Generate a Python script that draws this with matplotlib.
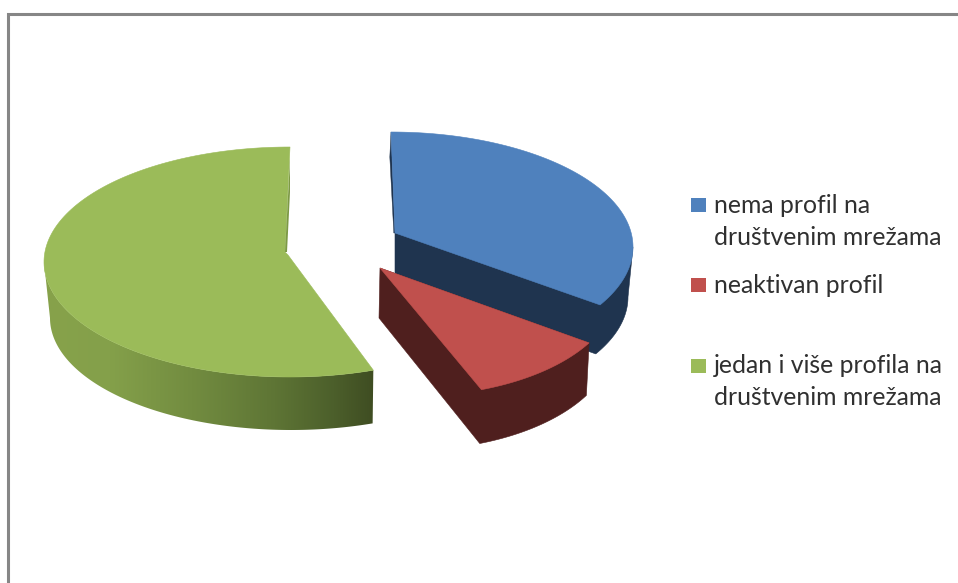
import numpy as np
import matplotlib
matplotlib.use("Agg")
import matplotlib.pyplot as plt
from matplotlib.patches import Polygon, Rectangle
from matplotlib.colors import LinearSegmentedColormap

# Data
categories = ["nema profil na\ndruštvenim mrežama", "neaktivan profil",
              "jedan i više profila na\ndruštvenim mrežama"]
shares = [33.4, 11.1, 55.5]

# Styles
top_colors = ["#4F81BD", "#C0504D", "#9BBB59"]
side_colors = ["#1F344F", "#4F1F1E", "#7D9A45"]

W, H = 958, 583
fig = plt.figure(figsize=(W / 100, H / 100), dpi=100, facecolor="white")
ax = fig.add_axes([0, 0, 1, 1])
ax.set_xlim(0, W)
ax.set_ylim(H, 0)
ax.axis("off")

# Chart frame: only left and top edges fall inside the picture
ax.plot([8.5, 8.5, W + 5], [H + 5, 13.5, 13.5], color="#868686", lw=2.2,
        solid_joinstyle="miter", zorder=1)

# Slice layout: top ellipse, bottom ellipse (cx, cy, rx, ry), apex
layout = [
    dict(top=(391, 247, 242, 115), bot=(391, 297, 237, 113), apex=(395, 233), apex_bot=(395, 283)),
    dict(top=(412, 289, 205, 107), bot=(411, 340, 203, 110), apex=(380, 268), apex_bot=(379, 318)),
    dict(top=(290, 262, 246, 115), bot=(291, 318, 241, 112), apex=(288, 255), apex_bot=(288, 307)),
]

def arc(ell, a0, a1, n=160):
    cx, cy, rx, ry = ell
    t = np.radians(np.linspace(a0, a1, n))
    return np.column_stack([cx + rx * np.sin(t), cy - ry * np.cos(t)])

edges = np.concatenate([[0], np.cumsum(shares)]) / np.sum(shares) * 360
spans = list(zip(edges[:-1], edges[1:]))

# ---- Blue slice: side silhouette (wall swept from the 3 o'clock tangent + cut face)
a0, a1 = spans[0]
L = layout[0]
body = np.vstack([[L["apex"]], arc(L["top"], 90, a1)[:1], arc(L["bot"], 90, a1), [L["apex_bot"]]])
ax.add_patch(Polygon(body, closed=True, fc=side_colors[0], ec=side_colors[0], lw=0.4, zorder=2))
p0 = arc(L["top"], a0, a0, 1)[0]
ax.add_patch(Polygon([p0, p0 + (-1.2, 25), (L["apex"][0] - 1.2, L["apex"][1]), L["apex"]], closed=True,
                     fc=side_colors[0], ec=side_colors[0], lw=0.3, zorder=2))
ax.add_patch(Polygon(np.vstack([[L["apex"]], arc(L["top"], a0, a1)]), closed=True,
                     fc=top_colors[0], ec=top_colors[0], lw=0.4, zorder=3))

# ---- Red slice: silhouette of wall and cut face
a0, a1 = spans[1]
L = layout[1]
body = np.vstack([[L["apex"]], arc(L["top"], a0, a0, 1), arc(L["bot"], a0, a1), [L["apex_bot"]]])
ax.add_patch(Polygon(body, closed=True, fc=side_colors[1], ec=side_colors[1], lw=0.4, zorder=4))
ax.add_patch(Polygon(np.vstack([[L["apex"]], arc(L["top"], a0, a1)]), closed=True,
                     fc=top_colors[1], ec=top_colors[1], lw=0.4, zorder=5))

# ---- Green slice, side wall with a horizontal gradient (ends at the 9 o'clock tangent)
a0, a1 = spans[2]
L = layout[2]
side = np.vstack([arc(L["top"], a0, 270), arc(L["bot"], 270, a0)])
clip = Polygon(side, closed=True, transform=ax.transData, fc="none", ec="none")
ax.add_patch(clip)
cmap = LinearSegmentedColormap.from_list(
    "green_side",
    [(0.0, "#87A24B"), (0.2, "#84A04A"), (0.45, "#728C40"), (0.7, "#5E7535"), (0.88, "#4C5F2B"), (1.0, "#3F4D22")])
xs = side[:, 0]
img = ax.imshow(np.linspace(0, 1, 256)[None, :], cmap=cmap, aspect="auto", zorder=2,
                extent=(xs.min(), xs.max(), side[:, 1].max(), side[:, 1].min()))
img.set_clip_path(clip)
ax.set_xlim(0, W)
ax.set_ylim(H, 0)
p1 = arc(L["top"], a1, a1, 1)[0]
ax_apex = np.array(L["apex"], dtype=float)
inner = ax_apex + (-3, -3)
ax.add_patch(Polygon(np.vstack([[ax_apex], arc(L["top"], a0, a1), [inner]]),
                     closed=True, fc=top_colors[2], ec=top_colors[2], lw=0.4, zorder=3))
ax.add_patch(Polygon([p1 + (0, 12), p1 + (0, 45), ax_apex + (-1, -3), inner],
                     closed=True, fc=side_colors[2], ec="none", zorder=3.5))

# ---- Legend
marker_tops = [198, 278, 359]
text_baselines = [(213, 245), (293,), (373, 405)]
for name, color, my, bases in zip(categories, top_colors, marker_tops, text_baselines):
    ax.add_patch(Rectangle((691, my), 15, 14, fc=color, ec="none", zorder=6))
    for line, b in zip(name.split("\n"), bases):
        ax.text(714, b, line, fontsize=17.8, family="Lato", color="#303030",
                va="baseline", ha="left", zorder=6)

fig.savefig("out.png", dpi=100, facecolor="white")
